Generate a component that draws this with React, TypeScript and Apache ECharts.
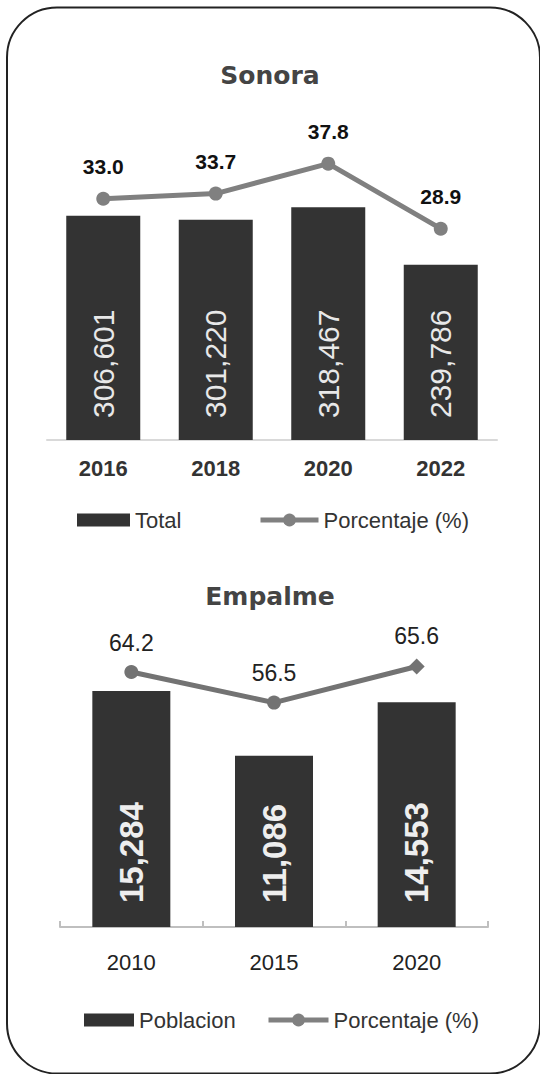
import React, { useEffect, useRef } from "react";
import * as echarts from "echarts";

const sonoraYears = ["2016", "2018", "2020", "2022"];
const sonoraTotal = [306601, 301220, 318467, 239786];
const sonoraPct = [33.0, 33.7, 37.8, 28.9];

const empalmeYears = ["2010", "2015", "2020"];
const empalmePob = [15284, 11086, 14553];
const empalmePct = [64.2, 56.5, 65.6];

const FONT = "Liberation Sans";
const fmtInt = (p: any) => Number(p.value).toLocaleString("en-US");
const fmt1 = (p: any) => Number(p.value).toFixed(1);

const legendText = { fontFamily: FONT, fontSize: 22, color: "#333333" };

export default function App() {
  const ref = useRef<HTMLDivElement>(null);
  useEffect(() => {
    if (!ref.current) return;
    const chart = echarts.init(ref.current, null, { renderer: "svg" });
    const option: any = {
      animation: false,
      backgroundColor: "#ffffff",
      textStyle: { fontFamily: FONT },
      title: [
        {
          text: "Sonora",
          left: "center",
          top: 58,
          textStyle: { fontFamily: "DejaVu Sans", fontWeight: "bold", fontSize: 25, color: "#444444" },
        },
        {
          text: "Empalme",
          left: "center",
          top: 579,
          textStyle: { fontFamily: "DejaVu Sans", fontWeight: "bold", fontSize: 25, color: "#444444" },
        },
      ],
      legend: [
        {
          data: [{ name: "Total", icon: "rect" }],
          left: 72,
          top: 504,
          itemWidth: 53,
          itemHeight: 13,
          textStyle: legendText,
        },
        {
          data: ["Porcentaje (%)"],
          left: 253,
          top: 504,
          itemWidth: 58,
          itemHeight: 16,
          lineStyle: { width: 5, color: "#808080" },
          itemStyle: { color: "#808080" },
          textStyle: legendText,
        },
        {
          data: [{ name: "Poblacion", icon: "rect" }],
          left: 79,
          top: 1004,
          itemWidth: 50,
          itemHeight: 13,
          textStyle: legendText,
        },
        {
          data: ["Porcentaje (%)"],
          left: 261,
          top: 1004,
          itemWidth: 60,
          itemHeight: 16,
          lineStyle: { width: 5, color: "#808080" },
          itemStyle: { color: "#808080" },
          textStyle: legendText,
        },
      ],
      grid: [
        { left: 47, width: 450, top: 111, height: 329 },
        { left: 60, width: 428, top: 649, height: 278 },
      ],
      xAxis: [
        {
          type: "category",
          gridIndex: 0,
          data: sonoraYears,
          axisLine: { lineStyle: { color: "#d9d9d9", width: 2 } },
          axisTick: { show: false },
          axisLabel: { fontFamily: FONT, fontWeight: "bold", fontSize: 22, color: "#333333", margin: 17 },
        },
        {
          type: "category",
          gridIndex: 1,
          data: empalmeYears,
          axisLine: { lineStyle: { color: "#bfbfbf", width: 2 } },
          axisTick: { show: true, inside: true, length: 6, lineStyle: { color: "#bfbfbf", width: 2 } },
          axisLabel: { fontFamily: FONT, fontSize: 22, color: "#222222", margin: 24 },
        },
        {
          type: "category",
          gridIndex: 1,
          data: empalmeYears,
          position: "bottom",
          axisLine: { show: false },
          axisTick: { show: true, inside: true, alignWithLabel: true, length: 6, lineStyle: { color: "#bfbfbf", width: 2 } },
          axisLabel: { show: false },
        },
      ],
      yAxis: [
        { type: "value", gridIndex: 0, min: 0, max: 450000, show: false, splitLine: { show: false } },
        { type: "value", gridIndex: 0, min: 0, max: 45, show: false, splitLine: { show: false } },
        { type: "value", gridIndex: 1, min: 0, max: 18000, show: false, splitLine: { show: false } },
        { type: "value", gridIndex: 1, min: 0, max: 70, show: false, splitLine: { show: false } },
      ],
      series: [
        {
          name: "Total",
          type: "bar",
          xAxisIndex: 0,
          yAxisIndex: 0,
          data: sonoraTotal,
          barWidth: 74,
          itemStyle: { color: "#333333" },
          label: {
            show: true,
            position: "insideBottom",
            rotate: 90,
            align: "left",
            verticalAlign: "middle",
            distance: 22,
            color: "#e8e8e8",
            fontFamily: FONT,
            fontSize: 30,
            formatter: fmtInt,
          },
        },
        {
          name: "Porcentaje (%)",
          type: "line",
          xAxisIndex: 0,
          yAxisIndex: 1,
          data: sonoraPct,
          symbol: "circle",
          symbolSize: 14,
          lineStyle: { color: "#808080", width: 5 },
          itemStyle: { color: "#808080" },
          label: {
            show: true,
            position: "top",
            distance: 15,
            fontFamily: FONT,
            fontWeight: "bold",
            fontSize: 21,
            color: "#111111",
            formatter: fmt1,
          },
          z: 5,
        },
        {
          name: "Poblacion",
          type: "bar",
          xAxisIndex: 1,
          yAxisIndex: 2,
          data: empalmePob,
          barWidth: 78,
          itemStyle: { color: "#333333" },
          label: {
            show: true,
            position: "insideBottom",
            rotate: 90,
            align: "left",
            verticalAlign: "middle",
            distance: 24,
            color: "#eeeeee",
            fontFamily: FONT,
            fontWeight: "bold",
            fontSize: 33,
            formatter: fmtInt,
          },
        },
        {
          name: "Porcentaje (%)",
          type: "line",
          xAxisIndex: 1,
          yAxisIndex: 3,
          data: empalmePct.map((v, i) =>
            i === empalmePct.length - 1 ? { value: v, symbol: "diamond", symbolSize: 16 } : v
          ),
          symbol: "circle",
          symbolSize: 14,
          lineStyle: { color: "#737373", width: 5 },
          itemStyle: { color: "#737373" },
          label: {
            show: true,
            position: "top",
            distance: 11,
            fontFamily: FONT,
            fontSize: 23,
            color: "#222222",
            formatter: fmt1,
          },
          z: 5,
        },
      ],
      graphic: [
        {
          type: "rect",
          shape: { x: 7, y: 7.5, width: 533, height: 1066, r: 50 },
          style: { fill: "none", stroke: "#222222", lineWidth: 2 },
          silent: true,
          z: 100,
        },
      ],
    };
    chart.setOption(option);
    return () => chart.dispose();
  }, []);
  return (
    <div
      ref={ref}
      style={{ position: "absolute", left: 0, top: 0, width: 540, height: 1074 }}
    />
  );
}
